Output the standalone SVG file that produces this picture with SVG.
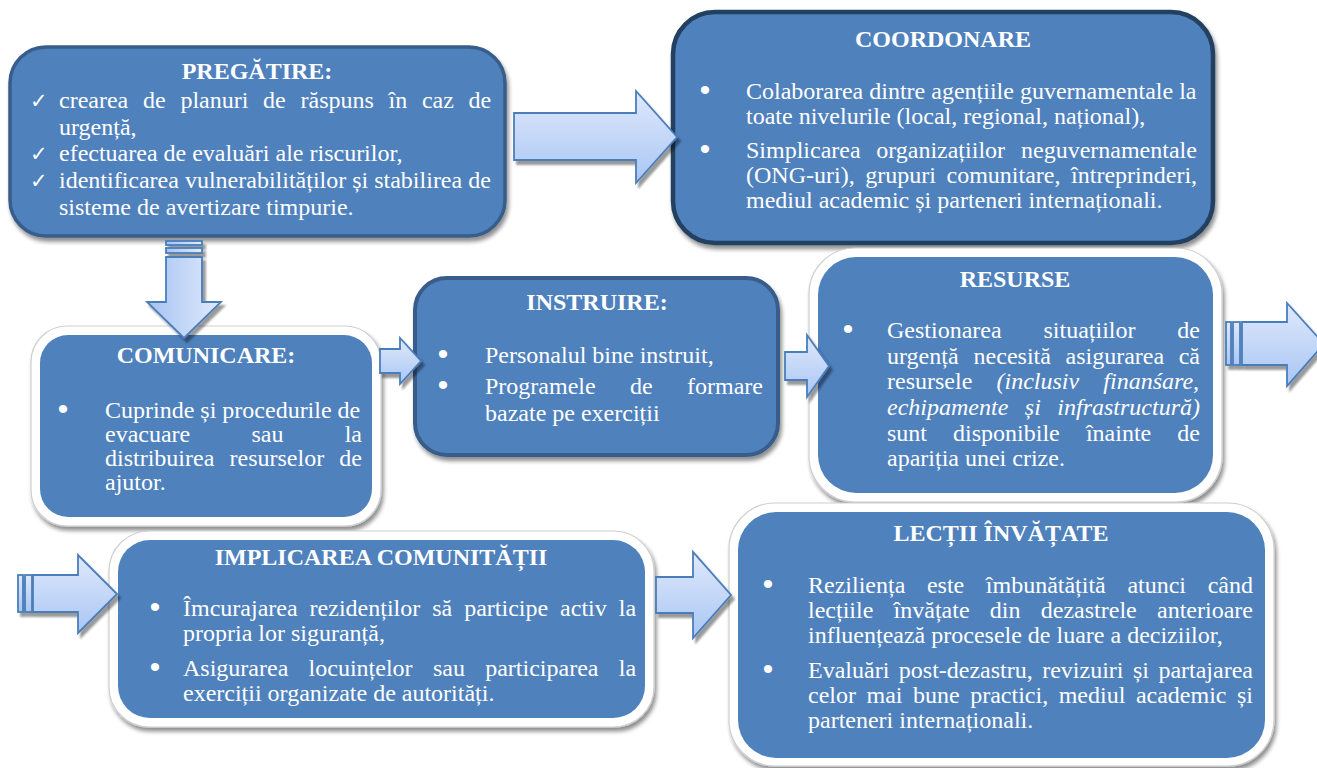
<svg xmlns="http://www.w3.org/2000/svg" width="1317" height="768" viewBox="0 0 1317 768">
<style>
.blue{fill:#4F81BD}
.dark{fill:#4F81BD;stroke:#385D8A;stroke-width:3.5}
.navy{fill:#4F81BD;stroke:#243F60;stroke-width:4.5}
.frame{fill:#ffffff;stroke:#cfcfcf;stroke-width:1.2}
.t{font-family:"Liberation Serif","Times New Roman",serif;font-size:24px;fill:#ffffff}
.i{font-style:italic}
.h{font-family:"Liberation Serif","Times New Roman",serif;font-size:24px;font-weight:bold;fill:#ffffff;text-anchor:middle}
.b{font-family:"Liberation Sans",Arial,sans-serif;font-size:30px;fill:#ffffff;text-anchor:middle}
.c{font-family:"DejaVu Sans",sans-serif;font-size:21px;fill:#ffffff}
.ah{fill:url(#gh);stroke:#4A7EBB;stroke-width:1.8;stroke-linejoin:miter}
.av{fill:url(#gv);stroke:#4A7EBB;stroke-width:1.8;stroke-linejoin:miter}
</style>
<defs>
<linearGradient id="gh" x1="0" y1="0" x2="0" y2="1">
<stop offset="0" stop-color="#dfe9fc"/>
<stop offset="1" stop-color="#a9c6f3"/>
</linearGradient>
<linearGradient id="gv" x1="0" y1="0" x2="1" y2="0">
<stop offset="0" stop-color="#a6c3f2"/>
<stop offset="1" stop-color="#e0eafc"/>
</linearGradient>
<filter id="sh" x="-10%" y="-10%" width="125%" height="130%">
<feGaussianBlur in="SourceAlpha" stdDeviation="2"/>
<feOffset dx="2" dy="4" result="o"/>
<feComponentTransfer><feFuncA type="linear" slope="0.45"/></feComponentTransfer>
<feMerge><feMergeNode/><feMergeNode in="SourceGraphic"/></feMerge>
</filter>
<filter id="as" x="-10%" y="-10%" width="130%" height="135%">
<feGaussianBlur in="SourceAlpha" stdDeviation="1"/>
<feOffset dx="3" dy="4"/>
<feComponentTransfer><feFuncA type="linear" slope="0.4"/></feComponentTransfer>
<feMerge><feMergeNode/><feMergeNode in="SourceGraphic"/></feMerge>
</filter>
</defs>
<rect width="1317" height="768" fill="#ffffff"/>

<g id="pregatire">
<rect class="dark" x="10" y="47" width="495" height="189" rx="36" filter="url(#sh)"/>
<text class="h" x="257" y="79">PREGĂTIRE:</text>
<text class="c" x="30" y="108">✓</text>
<text class="c" x="30" y="161">✓</text>
<text class="c" x="30" y="188">✓</text>
<text class="t" y="108"><tspan x="59">crearea</tspan><tspan x="143">de</tspan><tspan x="180.4">planuri</tspan><tspan x="263.1">de</tspan><tspan x="300.5">răspuns</tspan><tspan x="388.5">în</tspan><tspan x="421.9">caz</tspan><tspan x="468.6">de</tspan></text>
<text class="t" x="59" y="135">urgență,</text>
<text class="t" x="59" y="161">efectuarea de evaluări ale riscurilor,</text>
<text class="t" x="59" y="188">identificarea vulnerabilităților și stabilirea de</text>
<text class="t" x="59" y="215">sisteme de avertizare timpurie.</text>
</g>

<g id="coordonare">
<rect class="navy" x="673" y="12" width="540" height="231" rx="42" filter="url(#sh)"/>
<text class="h" x="943" y="47">COORDONARE</text>
<text class="b" x="705" y="100">•</text>
<text class="b" x="705" y="159">•</text>
<text class="t" x="746" y="99">Colaborarea dintre agențiile guvernamentale la</text>
<text class="t" x="746" y="124">toate nivelurile (local, regional, național),</text>
<text class="t" y="158"><tspan x="746">Simplicarea</tspan><tspan x="876.2">organizațiilor</tspan><tspan x="1021">neguvernamentale</tspan></text>
<text class="t" y="183"><tspan x="746">(ONG-uri),</tspan><tspan x="865.2">grupuri</tspan><tspan x="946.5">comunitare,</tspan><tspan x="1071.1">întreprinderi,</tspan></text>
<text class="t" x="746" y="208">mediul academic și parteneri internaționali.</text>
</g>

<g id="comunicare">
<rect class="frame" x="31" y="326" width="350" height="200" rx="36" filter="url(#sh)"/>
<rect class="blue" x="40" y="335" width="332" height="182" rx="28"/>
<text class="h" x="206" y="363">COMUNICARE:</text>
<text class="b" x="63" y="419">•</text>
<text class="t" x="105" y="418">Cuprinde și procedurile de</text>
<text class="t" y="442"><tspan x="105">evacuare</tspan><tspan x="251.5">sau</tspan><tspan x="344.7">la</tspan></text>
<text class="t" y="466"><tspan x="105">distribuirea</tspan><tspan x="229.5">resurselor</tspan><tspan x="339.3">de</tspan></text>
<text class="t" x="105" y="490">ajutor.</text>
</g>

<g id="instruire">
<rect class="dark" x="415" y="278" width="363" height="177" rx="32" style="stroke-width:4" filter="url(#sh)"/>
<text class="h" x="597" y="310">INSTRUIRE:</text>
<text class="b" x="443" y="364">•</text>
<text class="b" x="443" y="395">•</text>
<text class="t" x="485" y="363">Personalul bine instruit,</text>
<text class="t" y="394"><tspan x="485">Programele</tspan><tspan x="630">de</tspan><tspan x="687">formare</tspan></text>
<text class="t" x="485" y="421">bazate pe exerciții</text>
</g>

<g id="resurse">
<rect class="frame" x="809" y="248" width="413" height="254" rx="46" filter="url(#sh)"/>
<rect class="blue" x="818" y="257" width="395" height="236" rx="38"/>
<text class="h" x="1015" y="287">RESURSE</text>
<text class="b" x="848" y="339">•</text>
<text class="t" y="338"><tspan x="887">Gestionarea</tspan><tspan x="1043.5">situațiilor</tspan><tspan x="1177.3">de</tspan></text>
<text class="t" y="363.6"><tspan x="887">urgență</tspan><tspan x="973.6">necesită</tspan><tspan x="1065.5">asigurarea</tspan><tspan x="1178.7">că</tspan></text>
<text class="t" y="389"><tspan x="887">resursele</tspan><tspan class="i" x="996.5">(inclusiv</tspan><tspan class="i" x="1103.3">finanśare,</tspan></text>
<text class="t i" y="415"><tspan x="887">echipamente</tspan><tspan x="1024.8">și</tspan><tspan x="1057.3">infrastructură)</tspan></text>
<text class="t" y="440.5"><tspan x="887">sunt</tspan><tspan x="953.1">disponibile</tspan><tspan x="1085.9">înainte</tspan><tspan x="1177.3">de</tspan></text>
<text class="t" x="887" y="466">apariția unei crize.</text>
</g>

<g id="implicarea">
<rect class="frame" x="109" y="531" width="545" height="196" rx="40" filter="url(#sh)"/>
<rect class="blue" x="118" y="540" width="527" height="178" rx="32"/>
<text class="h" x="381" y="565">IMPLICAREA COMUNITĂȚII</text>
<text class="b" x="155" y="617">•</text>
<text class="b" x="155" y="677">•</text>
<text class="t" y="616"><tspan x="183">Îmcurajarea</tspan><tspan x="309.6">rezidenților</tspan><tspan x="432.2">să</tspan><tspan x="464.2">participe</tspan><tspan x="560.1">activ</tspan><tspan x="618.8">la</tspan></text>
<text class="t" x="183" y="641">propria lor siguranță,</text>
<text class="t" y="676"><tspan x="183">Asigurarea</tspan><tspan x="308.6">locuințelor</tspan><tspan x="432.9">sau</tspan><tspan x="485.2">participarea</tspan><tspan x="618.8">la</tspan></text>
<text class="t" x="183" y="701">exerciții organizate de autorități.</text>
</g>

<g id="lectii">
<rect class="frame" x="729" y="503" width="545" height="263" rx="46" filter="url(#sh)"/>
<rect class="blue" x="738" y="512" width="527" height="246" rx="38"/>
<text class="h" x="1001" y="541">LECȚII ÎNVĂȚATE</text>
<text class="b" x="768" y="594">•</text>
<text class="b" x="768" y="679">•</text>
<text class="t" y="593"><tspan x="808">Reziliența</tspan><tspan x="926.9">este</tspan><tspan x="985.8">îmbunătățită</tspan><tspan x="1127.4">atunci</tspan><tspan x="1207.7">când</tspan></text>
<text class="t" y="618"><tspan x="808">lecțiile</tspan><tspan x="893.6">învățate</tspan><tspan x="989.8">din</tspan><tspan x="1040.8">dezastrele</tspan><tspan x="1157">anterioare</tspan></text>
<text class="t" x="808" y="643">influențează procesele de luare a deciziilor,</text>
<text class="t" y="678"><tspan x="808">Evaluări</tspan><tspan x="898.8">post-dezastru,</tspan><tspan x="1042.2">revizuiri</tspan><tspan x="1133">și</tspan><tspan x="1158.4">partajarea</tspan></text>
<text class="t" y="703"><tspan x="808">celor</tspan><tspan x="866.5">mai</tspan><tspan x="913">bune</tspan><tspan x="970.2">practici,</tspan><tspan x="1058.7">mediul</tspan><tspan x="1135.9">academic</tspan><tspan x="1237">și</tspan></text>
<text class="t" x="808" y="728">parteneri internaționali.</text>
</g>

<g id="connectors">
<path class="ah" filter="url(#as)" d="M514,113 H636 V91 L677,137 L636,183 V160 H514 Z"/>
<g filter="url(#as)">
<rect class="av" x="166" y="241" width="36" height="4"/>
<rect class="av" x="166" y="248" width="36" height="5"/>
<path class="av" d="M166,257 H202 V302 H221 L184,338 L147,302 H166 Z"/>
</g>
<path class="ah" filter="url(#as)" d="M380,349 H400 V338 L421,361 L400,384 V373 H380 Z"/>
<path class="ah" filter="url(#as)" d="M785,352 H807 V335 L829,366 L807,397 V380 H785 Z"/>
<g filter="url(#as)">
<rect class="ah" x="1226" y="322" width="5" height="43"/>
<rect class="ah" x="1233" y="322" width="7" height="43"/>
<path class="ah" d="M1242,322 H1287 V303 L1324,344 L1287,386 V365 H1242 Z"/>
</g>
<g filter="url(#as)">
<rect class="ah" x="18" y="575" width="5" height="37"/>
<rect class="ah" x="25" y="575" width="7" height="37"/>
<path class="ah" d="M33,575 H78 V555 L117,594 L78,633 V612 H33 Z"/>
</g>
<path class="ah" filter="url(#as)" d="M656,577 H693 V552 L731,595 L693,638 V613 H656 Z"/>
</g>
</svg>
